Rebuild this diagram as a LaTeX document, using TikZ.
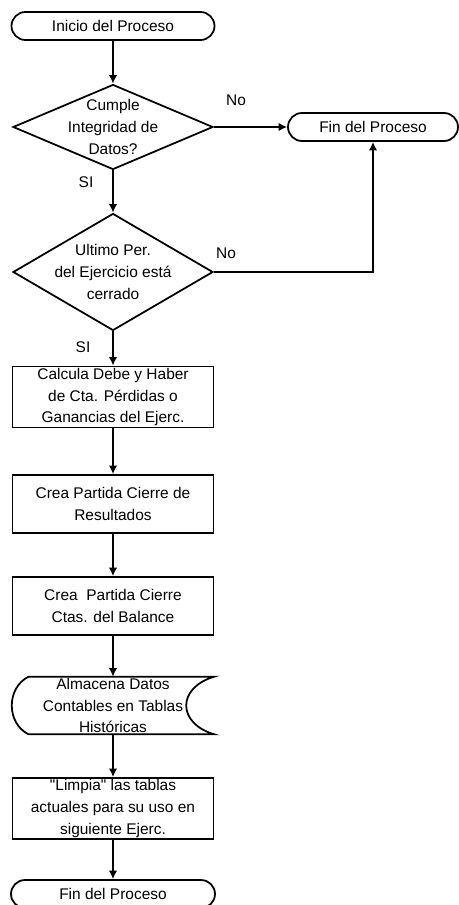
\documentclass[tikz,border=0pt]{standalone}
\usepackage{fontspec}
\setmainfont{Liberation Sans}[Ligatures=TeXOff]
\usetikzlibrary{shapes.geometric,shapes.misc,arrows.meta}

\begin{document}
\begin{tikzpicture}[
    >={Latex[length=1.7mm,width=1.7mm]},
    font=\fontsize{8.8}{12.3}\selectfont,
    line/.style={line width=1pt},
    terminal/.style={rounded rectangle, draw, line, minimum width=4.06cm, minimum height=0.56cm, inner sep=0pt},
    decision/.style={diamond, draw, line, shape aspect=2.35, inner sep=-6pt, minimum width=4cm, align=center},
    process/.style={rectangle, draw, line, minimum width=4.02cm, minimum height=1.16cm, inner sep=1pt, align=center},
    answer/.style={inner sep=0pt}
]
\useasboundingbox (0,0) rectangle (9.18,-18.1);

% Inicio
\node[terminal] (ini) at (2.26,-0.52) {Inicio del Proceso};

% Decisiones
\node[decision, minimum height=1.7cm] (dec1) at (2.26,-2.54) {Cumple\\Integridad de\\Datos?};
\node[terminal, minimum width=3.4cm] (fin1) at (7.46,-2.54) {Fin del Proceso};
\node[decision, minimum height=2.34cm] (dec2) at (2.26,-5.44) {Ultimo Per.\\del Ejercicio está\\cerrado};

\node[answer] (no1) at (4.72,-2.0) {No};
\node[answer] (si1) at (1.72,-3.64) {SI};
\node[answer] (no2) at (4.52,-5.06) {No};
\node[answer] (si2) at (1.66,-6.94) {SI};

% Procesos
\node[process, minimum height=0.98cm] (calc) at (2.26,-7.94) {Calcula Debe y Haber\\de Cta. Pérdidas o\\Ganancias del Ejerc.};
\node[process] (res) at (2.26,-10.08) {Crea Partida Cierre de\\Resultados};
\node[process] (bal) at (2.26,-12.12) {Crea~~Partida Cierre\\Ctas. del Balance};

% Almacena datos
\node[minimum width=4.04cm, minimum height=1.14cm, inner sep=0pt, align=center] (alm) at (2.26,-14.11) {Almacena Datos\\Contables en Tablas\\Históricas};
\draw[line] ([xshift=0.34cm]alm.north west) -- (alm.north east)
    .. controls +(-0.75,-0.22) and +(-0.75,0.22) .. (alm.south east)
    -- ([xshift=0.34cm]alm.south west)
    .. controls +(-0.45,0.22) and +(-0.45,-0.22) .. ([xshift=0.34cm]alm.north west);

\node[process, minimum height=1.14cm] (limpia) at (2.26,-16.17) {"Limpia" las tablas\\actuales para su uso en\\siguiente Ejerc.};

% Fin
\node[terminal, minimum width=4.08cm] (fin2) at (2.26,-17.88) {Fin del Proceso};

% Flechas
\draw[->, line] (ini) -- (dec1);
\draw[->, line] (dec1) -- (fin1);
\draw[->, line] (dec1) -- (dec2);
\draw[->, line] (dec2.east) -| (fin1.south);
\draw[->, line] (dec2) -- (calc);
\draw[->, line] (calc) -- (res);
\draw[->, line] (res) -- (bal);
\draw[->, line] (bal) -- (alm);
\draw[->, line] (alm) -- (limpia);
\draw[->, line] (limpia) -- (fin2);

\end{tikzpicture}
\end{document}
